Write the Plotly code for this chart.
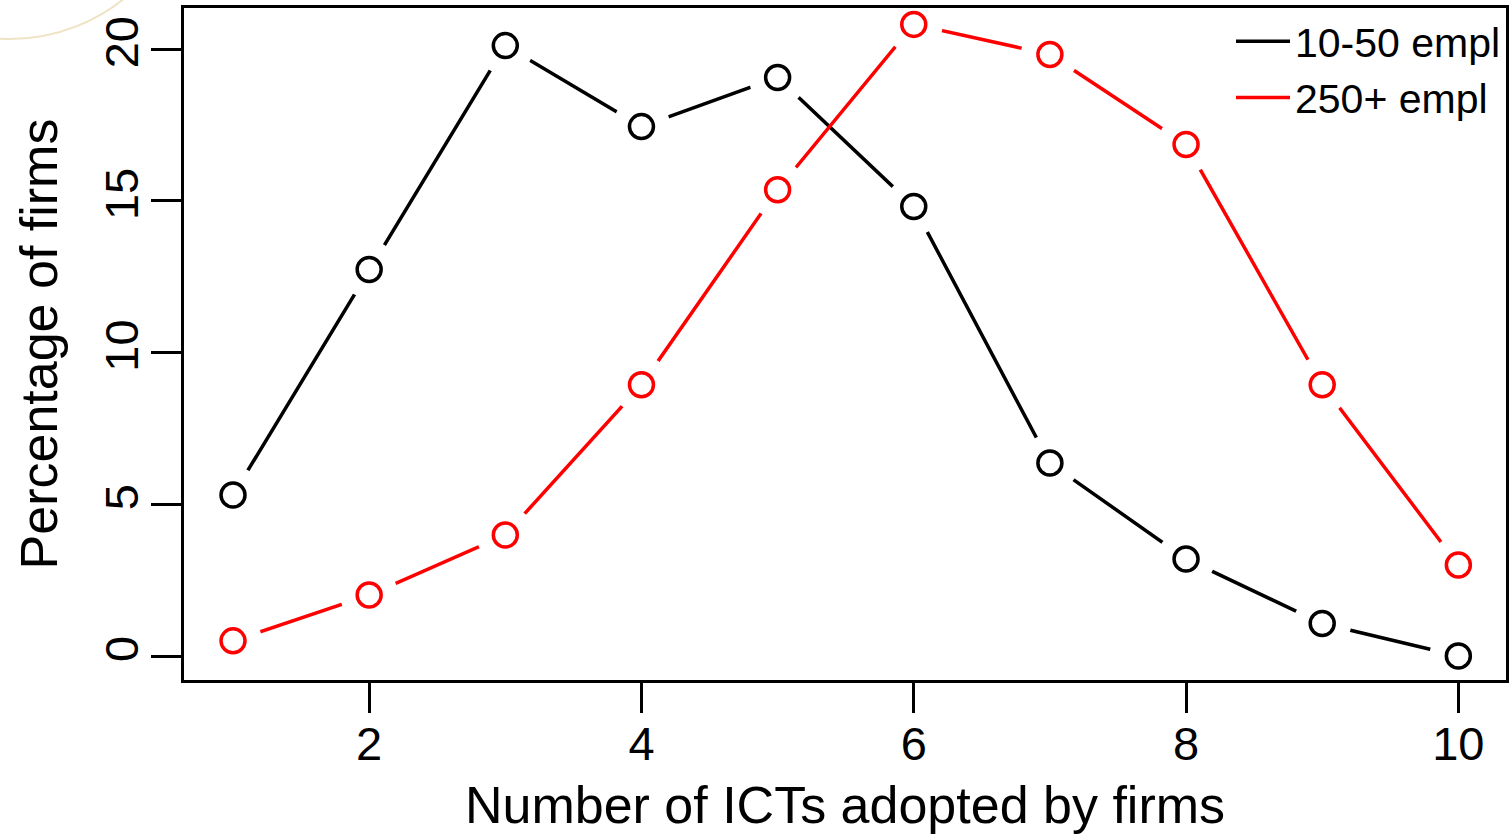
import plotly.graph_objects as go

# Data
n_icts = [1, 2, 3, 4, 5, 6, 7, 8, 9, 10]
small_firms = [5.31, 12.74, 20.12, 17.45, 19.07, 14.82, 6.36, 3.2, 1.07, 0.0]   # 10-50 empl
large_firms = [0.5, 2.01, 3.99, 8.94, 15.37, 20.82, 19.83, 16.86, 8.94, 3.0]    # 250+ empl
series_names = ["10-50 empl", "250+ empl"]
series_colors = ["black", "#ff0000"]
x_ticks = [2, 4, 6, 8, 10]
y_ticks = [0, 5, 10, 15, 20]

W, H = 1511, 840
ML, MR, MT, MB = 184, 2, 8, 160
FONT = "Liberation Sans, Arial, Helvetica, sans-serif"

fig = go.Figure()
for name, vals, col in zip(series_names, [small_firms, large_firms], series_colors):
    # connecting line
    fig.add_trace(go.Scatter(x=n_icts, y=vals, mode="lines", name=name,
                             line=dict(color=col, width=3.5), hoverinfo="skip"))
    # white mask to create R type="b" gaps around the points
    fig.add_trace(go.Scatter(x=n_icts, y=vals, mode="markers", showlegend=False,
                             marker=dict(symbol="circle", size=58, color="white",
                                         line=dict(width=0)), hoverinfo="skip"))
    # open circles
    fig.add_trace(go.Scatter(x=n_icts, y=vals, mode="markers", showlegend=False,
                             marker=dict(symbol="circle-open", size=24, color=col,
                                         line=dict(width=3.5, color=col))))

# faint decorative arc in the top-left corner (artifact in the reference)
pw, ph = W - ML - MR, H - MT - MB
def px2x(p):
    return (p - ML) / pw
def py2y(p):
    return (H - MB - p) / ph
cx, cy, r = 9, -145, 184
fig.add_shape(type="circle", xref="paper", yref="paper",
              x0=px2x(cx - r), x1=px2x(cx + r), y0=py2y(cy + r), y1=py2y(cy - r),
              line=dict(color="#efe3c4", width=2), layer="below")

axis_common = dict(showline=True, linecolor="black", linewidth=3, mirror=True,
                   showgrid=False, zeroline=False, ticks="outside", ticklen=30,
                   tickwidth=3, tickcolor="black",
                   tickfont=dict(family=FONT, size=47, color="black"))

fig.update_layout(
    width=W, height=H,
    margin=dict(l=ML, r=MR, t=MT, b=MB),
    paper_bgcolor="white", plot_bgcolor="white",
    font=dict(family=FONT, color="black"),
    xaxis=dict(range=[0.64, 10.35], tickvals=x_ticks, ticktext=[str(v) for v in x_ticks],
               ticklabelstandoff=-9,
               title=dict(text="Number of ICTs adopted by firms",
                          font=dict(family=FONT, size=52), standoff=18),
               **axis_common),
    yaxis=dict(range=[-0.79, 21.36], tickvals=y_ticks, ticktext=[str(v) for v in y_ticks],
               tickangle=-90, ticklabelstandoff=-6,
               title=dict(text="Percentage of firms",
                          font=dict(family=FONT, size=52), standoff=22),
               **axis_common),
    legend=dict(x=1, y=1, xanchor="right", yanchor="top", bgcolor="rgba(0,0,0,0)",
                borderwidth=0, font=dict(family=FONT, size=41, color="black"),
                itemwidth=54, tracegroupgap=0),
    showlegend=True,
)

fig.write_html("out.html", config={"displayModeBar": False},
               post_script="document.body.style.margin='0';document.body.style.padding='0';")
